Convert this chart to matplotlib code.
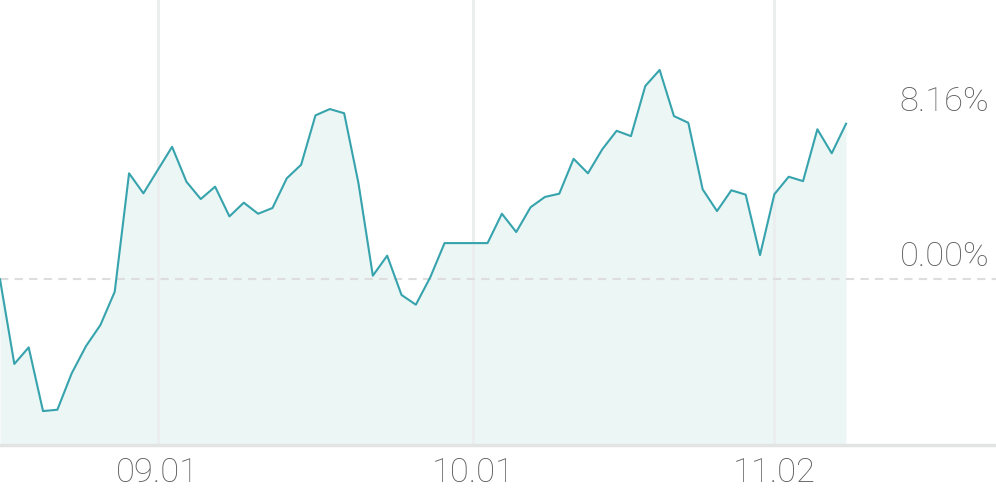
import numpy as np
import matplotlib.pyplot as plt

# daily return vs. start (%)
returns = [0.00, -4.44, -3.57, -6.91, -6.84, -4.93, -3.50, -2.40, -0.65, 5.56,
           4.51, 5.73, 6.95, 5.12, 4.21, 4.86, 3.30, 4.02, 3.44, 3.74,
           5.30, 6.01, 8.60, 8.93, 8.71, 5.03, 0.19, 1.24, -0.82, -1.33,
           0.10, 1.90, 1.90, 1.90, 1.90, 3.44, 2.48, 3.78, 4.32, 4.49,
           6.32, 5.56, 6.82, 7.79, 7.51, 10.14, 10.98, 8.56, 8.21, 4.72,
           3.58, 4.67, 4.44, 1.27, 4.46, 5.38, 5.15, 7.87, 6.61, 8.16]
tick_pos = [11, 33, 54]
tick_labels = ["09.01", "10.01", "11.02"]

line_col = "#36a3ad"
fill_col = "#ecf6f5"
text_col = "#5c5c5c"

plt.rcParams['font.family'] = ['Roboto', 'DejaVu Sans']

fig = plt.figure(figsize=(9.96, 4.9), dpi=100)
ax = fig.add_axes([0, 45 / 490, 1, 445 / 490])

x = np.arange(len(returns))
ymin, ymax = -8.69, 14.65
ax.fill_between(x, returns, ymin, color=fill_col, lw=0, zorder=1)
ax.plot(x, returns, color=line_col, lw=1.5, zorder=3)

for t in tick_pos:
    ax.axvline(t, color="#ebeeee", lw=2, zorder=2)
ax.axhline(0, color="#dddddd", lw=1.5, ls=(0, (4, 3)), zorder=2)

ax.set_xlim(0, 996 / 14.34)
ax.set_ylim(ymin, ymax)

for v in [returns[-1], 0.0]:
    ax.annotate(f"{v:.2f}%", xy=(989 / 996, v), xycoords=("axes fraction", "data"),
                xytext=(0, 16), textcoords="offset points", ha="right", va="center",
                fontsize=24.8, color=text_col, fontweight="light")

ax.set_xticks(tick_pos)
ax.set_xticklabels(tick_labels)
ax.tick_params(axis="x", length=0, pad=8.5, labelsize=24.8, labelcolor=text_col)
ax.set_yticks([])
for lbl in ax.get_xticklabels():
    lbl.set_fontweight("light")

for s in ["top", "left", "right"]:
    ax.spines[s].set_visible(False)
ax.spines["bottom"].set_color("#e2e4e4")
ax.spines["bottom"].set_linewidth(2.5)

fig.savefig("out.png", dpi=100)
